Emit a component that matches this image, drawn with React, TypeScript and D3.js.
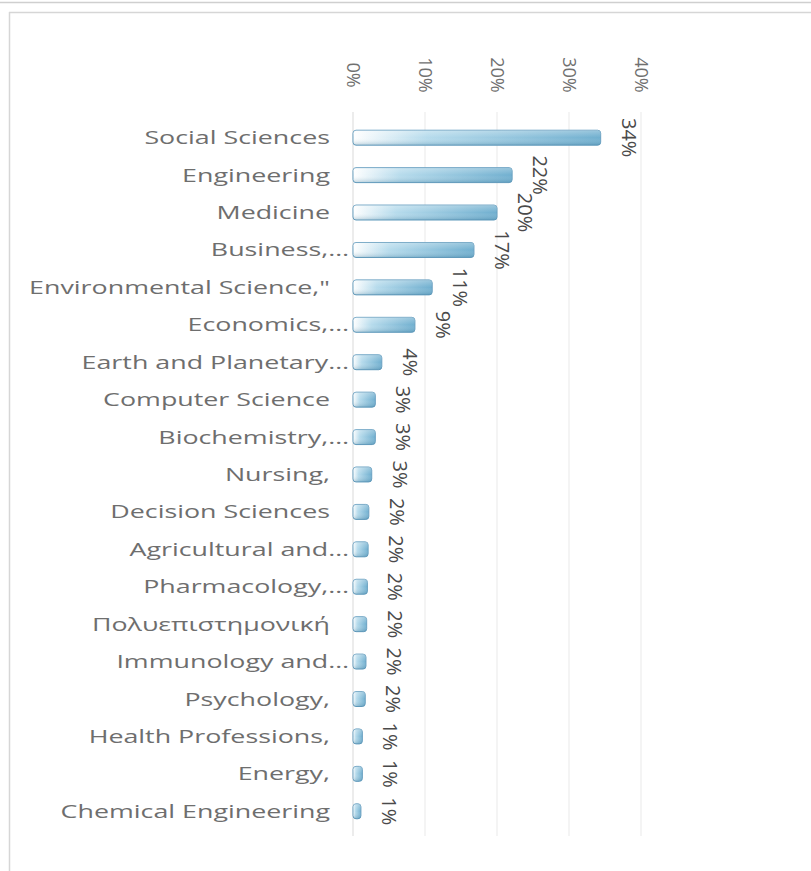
import * as d3 from 'd3';

const categories = [
  'Social Sciences',
  'Engineering',
  'Medicine',
  'Business,…',
  'Environmental Science,"',
  'Economics,…',
  'Earth and Planetary…',
  'Computer Science',
  'Biochemistry,…',
  'Nursing,',
  'Decision Sciences',
  'Agricultural and…',
  'Pharmacology,…',
  'Πολυεπιστημονική',
  'Immunology and…',
  'Psychology,',
  'Health Professions,',
  'Energy,',
  'Chemical Engineering',
];

// share of documents, in %
const shares = [34.4, 22.1, 20.0, 16.8, 11.0, 8.6, 4.0, 3.1, 3.1, 2.6, 2.2, 2.1, 2.0, 1.9, 1.8, 1.7, 1.3, 1.3, 1.1];

const xTicks = [0, 10, 20, 30, 40];

const W = 811;
const H = 871;

const App = () => {
  const x = d3.scaleLinear().domain([0, 40]).range([353, 641]);
  const y = d3.scaleBand<string>().domain(categories).range([119, 830]).paddingInner(0.6).paddingOuter(0.3);
  const bh = y.bandwidth();

  return (
    <svg width={W} height={H} style={{ position: 'absolute', left: 0, top: 0, background: '#fff' }}>
      <defs>
        <linearGradient id="barGrad" x1="0" x2="1" y1="0" y2="0">
          <stop offset="0%" stopColor="#ffffff" />
          <stop offset="30%" stopColor="#b6dbec" />
          <stop offset="100%" stopColor="#70afcf" />
        </linearGradient>
        <linearGradient id="barShade" x1="0" x2="0" y1="0" y2="1">
          <stop offset="0%" stopColor="#ffffff" stopOpacity={0.3} />
          <stop offset="50%" stopColor="#ffffff" stopOpacity={0} />
          <stop offset="100%" stopColor="#2e6f92" stopOpacity={0.3} />
        </linearGradient>
      </defs>

      {/* frame */}
      <line x1={0} x2={W} y1={2.5} y2={2.5} stroke="#cfcfcf" strokeWidth={1.5} />
      <line x1={9} x2={W} y1={12.5} y2={12.5} stroke="#d6d6d6" strokeWidth={1.5} />
      <line x1={9.5} x2={9.5} y1={12} y2={H} stroke="#d6d6d6" strokeWidth={1.5} />

      {/* grid */}
      {xTicks.map(t => (
        <line key={t} x1={x(t)} x2={x(t)} y1={112} y2={836} stroke={t === 0 ? '#e6e6e6' : '#f0f0f0'} strokeWidth={1.5} />
      ))}

      {/* tick labels */}
      {xTicks.map(t => (
        <text
          key={t}
          transform={`translate(${x(t)},75) rotate(90)`}
          textAnchor="middle"
          dy="0.35em"
          fontFamily="'Open Sans', sans-serif"
          fontSize={18}
          fill="#707070"
        >
          {t}%
        </text>
      ))}

      {/* bars */}
      {categories.map((c, i) => {
        const y0 = y(c)!;
        const w = x(shares[i]) - x(0);
        return (
          <g key={c}>
            <rect x={x(0)} y={y0} width={w} height={bh} rx={3} fill="url(#barGrad)" stroke="#679fc0" strokeWidth={1} />
            <rect x={x(0)} y={y0} width={w} height={bh} rx={3} fill="url(#barShade)" />
          </g>
        );
      })}

      {/* category labels */}
      {categories.map(c => {
        const cy = y(c)! + bh / 2;
        const right = c.endsWith('…') ? 349 : 330;
        return (
          <text
            key={c}
            transform={`translate(${right},${cy}) scale(1.45,1)`}
            textAnchor="end"
            dy="0.35em"
            fontFamily="'Open Sans', sans-serif"
            fontSize={18.5}
            fill="#6e6e6e"
          >
            {c}
          </text>
        );
      })}

      {/* value labels */}
      {categories.map((c, i) => {
        const cy = y(c)! + bh / 2;
        return (
          <text
            key={c}
            transform={`translate(${x(shares[i]) + 28},${cy}) rotate(90)`}
            textAnchor="middle"
            dy="0.35em"
            fontFamily="'Open Sans', sans-serif"
            fontSize={20}
            fill="#4a4a4a"
          >
            {Math.round(shares[i])}%
          </text>
        );
      })}
    </svg>
  );
};

export default App;
